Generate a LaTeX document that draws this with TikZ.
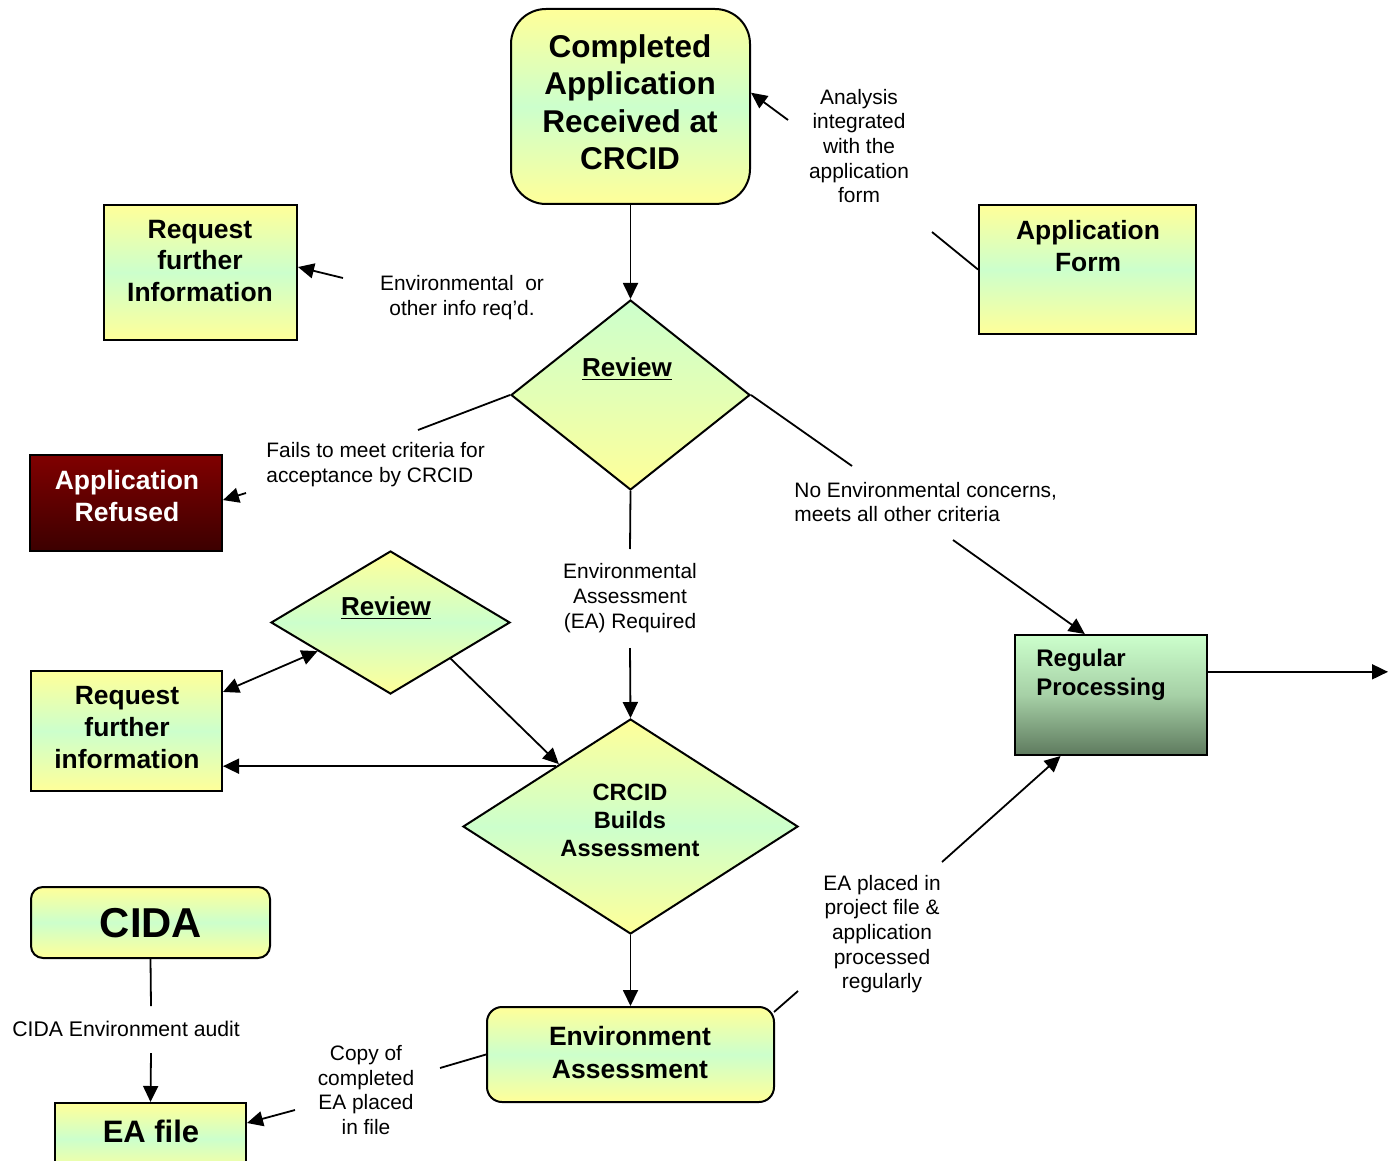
\documentclass[tikz,border=0pt]{standalone}
\usepackage{fontspec}
\setmainfont{Liberation Sans}
\usetikzlibrary{shapes.geometric,arrows.meta,calc}
\definecolor{ylw}{HTML}{FFFF99}
\definecolor{grn}{HTML}{CCFFCC}
\definecolor{redtop}{HTML}{800000}
\definecolor{redbot}{HTML}{3C0000}
\definecolor{dgrn}{HTML}{5E7A5E}
\definecolor{mgrn}{HTML}{A6D0A6}
\begin{document}
\begin{tikzpicture}[x=0.5pt,y=-0.5pt,
  box/.style={draw=black, line width=1pt, inner sep=0pt},
  ygrad/.style={top color=ylw, bottom color=ylw, middle color=grn},
  gygrad/.style={top color=grn, bottom color=ylw, middle color={grn!55!ylw}},
  dia/.style={box, diamond, aspect=1},
  arr/.style={line width=0.9pt, -{Triangle[length=8pt,width=7.5pt]}},
  dbl/.style={line width=0.9pt, {Triangle[length=8pt,width=7.5pt]}-{Triangle[length=8pt,width=7.5pt]}},
  ln/.style={line width=0.9pt},
  lbl/.style={inner sep=0pt, align=center, font=\fontsize{10.45pt}{12.3pt}\selectfont},
  bt/.style={inner sep=0pt, align=center, font=\fontsize{13.25pt}{15.75pt}\selectfont\bfseries}
]
\clip (0,0) rectangle (1395,1160);
\fill[white] (0,0) rectangle (1395,1160);

% ---------- shapes ----------
\node[box, ygrad, rounded corners=17.5pt, minimum width=119.5pt, minimum height=97.5pt] (comp) at (630.5,106.5) {};
\node[box, ygrad, minimum width=96.5pt, minimum height=67.5pt] (reqA) at (200.5,272.5) {};
\node[box, ygrad, minimum width=108.5pt, minimum height=64.5pt] (form) at (1087.5,269.5) {};
\node[dia, gygrad, minimum width=119.5pt, minimum height=95pt] (rev1) at (630.5,395) {};
\node[box, top color=redtop, bottom color=redbot, minimum width=96pt, minimum height=48pt] (refused) at (126,503) {};
\node[dia, ygrad, minimum width=119.5pt, minimum height=71.5pt] (rev2) at (390.5,622.5) {};
\node[box, ygrad, minimum width=95.5pt, minimum height=60pt] (reqB) at (126.5,731) {};
\node[dia, ygrad, minimum width=167.5pt, minimum height=107.5pt] (build) at (630.5,826.5) {};
\node[box, top color=grn, bottom color=dgrn, middle color=mgrn, minimum width=96pt, minimum height=60pt] (reg) at (1111,695) {};
\node[box, ygrad, rounded corners=6pt, minimum width=119.5pt, minimum height=35.5pt] (cida) at (150.5,922.5) {};
\node[box, ygrad, minimum width=95.5pt, minimum height=36pt] (eafile) at (150.5,1139) {};
\node[box, ygrad, rounded corners=7.5pt, minimum width=143.5pt, minimum height=47.5pt] (envA) at (630.5,1054.5) {};

% ---------- shape texts ----------
\node[inner sep=0pt, align=center, font=\fontsize{15.75pt}{18.75pt}\selectfont\bfseries] (compT) at (630,102) {Completed\\Application\\Received at\\CRCID};
\node[bt] (reqAT) at (200,261) {Request\\further\\Information};
\node[bt, font=\fontsize{13.2pt}{16pt}\selectfont\bfseries] (formT) at (1088,246) {Application\\Form};
\node[bt, font=\fontsize{13pt}{15pt}\selectfont\bfseries] (rev1T) at (627,369) {\underline{Review}};
\node[bt, text=white, font=\fontsize{13.25pt}{16pt}\selectfont\bfseries] (refT) at (127,496) {Application\\Refused};
\node[bt, font=\fontsize{13pt}{15pt}\selectfont\bfseries] (rev2T) at (386,608) {\underline{Review}};
\node[bt, font=\fontsize{13.2pt}{16pt}\selectfont\bfseries] (reqBT) at (127,728) {Request\\further\\information};
\node[bt, font=\fontsize{11.8pt}{14pt}\selectfont\bfseries] (buildT) at (630,820) {CRCID\\Builds\\Assessment};
\node[inner sep=0pt, align=left, anchor=west, font=\fontsize{12pt}{14.5pt}\selectfont\bfseries] (regT) at (1036,675) {Regular\\Processing};
\node[bt, font=\fontsize{20.9pt}{24pt}\selectfont\bfseries] (cidaT) at (151,923) {CIDA};
\node[bt, font=\fontsize{15.5pt}{18pt}\selectfont\bfseries] (eafileT) at (151,1131) {EA file};
\node[bt, font=\fontsize{13.25pt}{16.5pt}\selectfont\bfseries] (envAT) at (630,1052.5) {Environment\\Assessment};

% ---------- labels ----------
\node[lbl] (l1) at (859,146) {Analysis\\integrated\\with the\\application\\form};
\node[lbl] (l2) at (462,297.5) {Environmental~ or\\other info req’d.};
\node[lbl, align=left, anchor=west] (l3) at (266,464.5) {Fails to meet criteria for\\acceptance by CRCID};
\node[lbl, align=left, anchor=west] (l4) at (794,502) {No Environmental concerns,\\meets all other criteria};
\node[lbl] (l5) at (630,598) {Environmental\\Assessment\\(EA) Required};
\node[lbl] (l6) at (882,934) {EA placed in\\project file \&\\application\\processed\\regularly};
\node[lbl, anchor=west, font=\fontsize{10.6pt}{12.3pt}\selectfont] (l7) at (12,1029) {CIDA Environment audit};
\node[lbl] (l8) at (366,1090) {Copy of\\completed\\EA placed\\in file};

% ---------- free coordinates ----------
\coordinate (f1) at (932,232);
\coordinate (f2) at (788,120);
\coordinate (g1) at (418,430);
\coordinate (g2) at (246,493);
\coordinate (h1) at (343,278);
\coordinate (n1) at (852,466);
\coordinate (n2) at (953,540);
\coordinate (e1) at (630,549);
\coordinate (e2) at (630,648);
\coordinate (p1) at (798,991);
\coordinate (p2) at (942,862);
\coordinate (out) at (1388,672);
\coordinate (c1) at (151,1006);
\coordinate (c2) at (151,1053);
\coordinate (k1) at (440,1068);
\coordinate (k2) at (295,1110);

% ---------- connectors ----------
\draw[arr] (comp.south) -- (rev1.north);
\draw[ln] (form.west) -- (f1);
\draw[arr] (f2) -- ($(comp.north east)!0.43!(comp.south east)$);
\draw[ln] (rev1.west) -- (g1);
\draw[arr] (g2) -- ($(refused.north east)!0.47!(refused.south east)$);
\draw[arr] (h1) -- ($(reqA.north east)!0.46!(reqA.south east)$);
\draw[ln] (rev1.east) -- (n1);
\draw[arr] (n2) -- ($(reg.north west)!0.365!(reg.north east)$);
\draw[ln] (rev1.south) -- (e1);
\draw[arr] (e2) -- (build.north);
\draw[arr] (rev2.south east) -- ($(build.north)!0.425!(build.west)$);
\draw[dbl] ($(reqB.north east)!0.18!(reqB.south east)$) -- ($(rev2.west)!0.395!(rev2.south)$);
\coordinate (bl) at ($(build.north)!0.444!(build.west)$);
\draw[arr] (bl) -- (bl -| reqB.east);
\draw[arr] (build.south) -- (envA.north);
\draw[ln] ([shift={(-1,6)}]envA.north east) -- (p1);
\draw[arr] (p2) -- ($(reg.south west)!0.24!(reg.south east)$);
\coordinate (ro) at ($(reg.north east)!0.31!(reg.south east)$);
\draw[arr] (ro) -- (ro -| out);
\draw[ln] (cida.south) -- (c1);
\draw[arr] (c2) -- (eafile.north);
\draw[ln] (envA.west) -- (k1);
\draw[arr] (k2) -- ([shift={(0,21)}]eafile.north east);
\end{tikzpicture}
\end{document}
